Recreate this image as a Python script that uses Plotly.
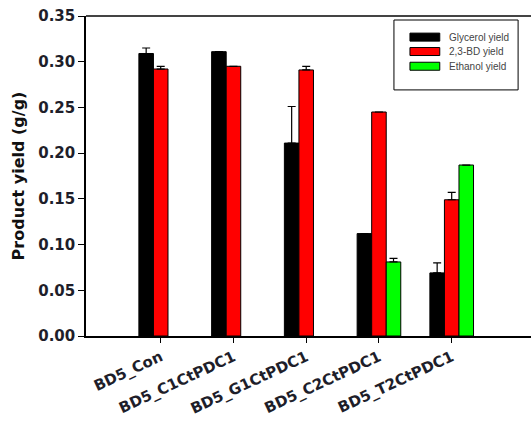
import plotly.graph_objects as go

categories = ["BD5_Con", "BD5_C1CtPDC1", "BD5_G1CtPDC1", "BD5_C2CtPDC1", "BD5_T2CtPDC1"]
glycerol = [0.309, 0.311, 0.211, 0.112, 0.069]
glycerol_err = [0.006, 0.0, 0.040, 0.0, 0.011]
bd23 = [0.292, 0.295, 0.291, 0.245, 0.149]
bd23_err = [0.003, 0.0, 0.004, 0.0, 0.008]
ethanol = [None, None, None, 0.081, 0.187]
ethanol_err = [0.0, 0.0, 0.0, 0.004, 0.0]
series_names = ["Glycerol yield", "2,3-BD yield", "Ethanol yield"]
series_colors = ["#000000", "#ff0000", "#00ff00"]
y_ticks = [0.00, 0.05, 0.10, 0.15, 0.20, 0.25, 0.30, 0.35]

xpos = list(range(len(categories)))
BOLD_FONT = "DejaVu Sans, Arial, sans-serif"

def bar(name, vals, errs, color):
    return go.Bar(
        x=xpos, y=vals, name=name, showlegend=False,
        marker=dict(color=color, line=dict(color="black", width=1)),
        error_y=dict(type="data", array=errs, arrayminus=[0] * len(errs), symmetric=False,
                     color="black", thickness=1.2, width=4),
    )

fig = go.Figure([
    bar(series_names[0], glycerol, glycerol_err, series_colors[0]),
    bar(series_names[1], bd23, bd23_err, series_colors[1]),
    bar(series_names[2], ethanol, ethanol_err, series_colors[2]),
])

fig.update_layout(
    width=531, height=428,
    margin=dict(l=86, r=0, t=16, b=92, autoexpand=False),
    paper_bgcolor="white", plot_bgcolor="white",
    barmode="group", bargap=0.4, bargroupgap=0,
    font=dict(family="Arial, Liberation Sans, sans-serif", color="#222222"),
    showlegend=False,
    xaxis=dict(
        range=[-1.027, 5.09], tickmode="array", tickvals=xpos, ticktext=categories,
        tickangle=-25, ticks="outside", ticklen=5, tickcolor="black",
        showline=True, linecolor="black", linewidth=1.5, mirror=False,
        showgrid=False, zeroline=False, automargin=False,
        tickfont=dict(family=BOLD_FONT, size=15, weight="bold", color="#1e1e2a"),
    ),
    yaxis=dict(
        range=[0, 0.35], tickmode="array", tickvals=y_ticks,
        ticktext=[f"{v:.2f}" for v in y_ticks],
        ticks="outside", ticklen=6, tickcolor="black",
        showline=True, linecolor="black", linewidth=1.5,
        showgrid=False, zeroline=False, automargin=False,
        tickfont=dict(family=BOLD_FONT, size=15, weight="bold", color="#1e1e2a"),
        title=dict(text="Product yield (g/g)",
                   font=dict(family=BOLD_FONT, size=16, weight="bold", color="#111111"),
                   standoff=10),
    ),
)
# top frame line
fig.add_shape(type="line", xref="paper", yref="paper", x0=0, x1=1, y0=1, y1=1,
              line=dict(color="#444444", width=2))

# legend box (drawn like the original figure's legend)
fig.add_shape(type="rect", xref="paper", yref="paper", x0=0.692, x1=0.971, y0=0.769, y1=0.9875,
              line=dict(color="black", width=1), fillcolor="white", layer="above")
legend_y = [0.934, 0.889, 0.843]
for name, color, yc in zip(series_names, series_colors, legend_y):
    fig.add_shape(type="rect", xref="paper", yref="paper", x0=0.728, x1=0.795,
                  y0=yc - 0.0125, y1=yc + 0.0125,
                  line=dict(color="black", width=1), fillcolor=color, layer="above")
    fig.add_annotation(xref="paper", yref="paper", x=0.811, y=yc, text=name,
                       showarrow=False, xanchor="left", yanchor="middle",
                       font=dict(size=10, color="#444444"))

fig.write_html("out.html", config={"displayModeBar": False},
               post_script="document.body.style.margin='0';document.body.style.overflow='hidden';")
